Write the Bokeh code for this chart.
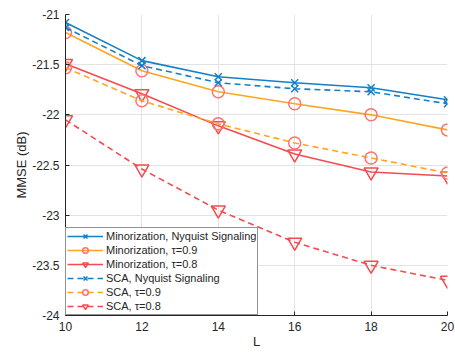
from bokeh.plotting import figure
from bokeh.models import Range1d, FixedTicker, Legend, LegendItem
from bokeh.embed import file_html
from bokeh.resources import INLINE

L = [10, 12, 14, 16, 18, 20]
min_nyq = [-21.08, -21.46, -21.62, -21.68, -21.73, -21.85]
min_09 = [-21.18, -21.56, -21.77, -21.89, -22.00, -22.15]
min_08 = [-21.49, -21.79, -22.11, -22.39, -22.57, -22.61]
sca_nyq = [-21.13, -21.51, -21.68, -21.74, -21.77, -21.89]
sca_09 = [-21.53, -21.86, -22.09, -22.28, -22.43, -22.58]
sca_08 = [-22.05, -22.54, -22.95, -23.27, -23.50, -23.65]

y_ticks = [-24, -23.5, -23, -22.5, -22, -21.5, -21]
y_tick_labels = ["-24", "-23.5", "-23", "-22.5", "-22", "-21.5", "-21"]
x_ticks = [10, 12, 14, 16, 18, 20]

BLUE = "#1380C8"
ORANGE = "#FFA51F"
RED = "#F74A4F"
SALMON = "#FF7272"
FONT = "Liberation Sans"

p = figure(width=455, height=352, output_backend="svg", toolbar_location=None,
           x_range=Range1d(10, 20), y_range=Range1d(-24, -21),
           min_border_left=65, min_border_right=8, min_border_top=14, min_border_bottom=37)
p.outline_line_color = None
p.background_fill_color = "white"
p.border_fill_color = "white"

for ax in (p.xaxis[0], p.yaxis[0]):
    ax.axis_line_color = "#262626"
    ax.major_tick_line_color = "#262626"
    ax.major_tick_in = 4
    ax.major_tick_out = 0
    ax.minor_tick_line_color = None
    ax.major_label_text_font = FONT
    ax.major_label_text_font_size = "12px"
    ax.major_label_text_color = "#262626"
    ax.axis_label_text_font = FONT
    ax.axis_label_text_font_size = "13px"
    ax.axis_label_text_font_style = "normal"
    ax.axis_label_text_color = "#262626"

p.xaxis.ticker = FixedTicker(ticks=x_ticks)
p.yaxis.ticker = FixedTicker(ticks=y_ticks)
p.yaxis.major_label_overrides = {t: s for t, s in zip(y_ticks, y_tick_labels)}
p.xaxis.axis_label = "L"
p.yaxis.axis_label = "MMSE (dB)"
p.xaxis.major_label_standoff = 6
p.yaxis.major_label_standoff = 6
p.xaxis.axis_label_standoff = 0
p.yaxis.axis_label_standoff = 0

p.grid.grid_line_color = "#E3E3E3"
p.grid.grid_line_width = 1

series = [
    ("Minorization, Nyquist Signaling", min_nyq, BLUE, "solid", "x", BLUE, 10),
    ("Minorization, τ=0.9", min_09, ORANGE, "solid", "circle", SALMON, 12),
    ("Minorization, τ=0.8", min_08, RED, "solid", "inverted_triangle", RED, 14),
    ("SCA, Nyquist Signaling", sca_nyq, BLUE, "6 4", "x", BLUE, 10),
    ("SCA, τ=0.9", sca_09, ORANGE, "6 4", "circle", SALMON, 12),
    ("SCA, τ=0.8", sca_08, RED, "6 4", "inverted_triangle", RED, 14),
]

items = []
for label, ys, col, dash, marker, mcol, size in series:
    r1 = p.line(L, ys, line_color=col, line_width=1.6, line_dash=dash)
    r2 = p.scatter(L, ys, marker=marker, size=size, line_color=mcol,
                   fill_color=None, line_width=1.5)
    items.append(LegendItem(label=label, renderers=[r1, r2]))

legend = Legend(items=items, location="bottom_left")
legend.margin = 0
legend.padding = 1
legend.spacing = 0
legend.label_text_font = FONT
legend.label_text_font_size = "11px"
legend.label_text_color = "#262626"
legend.label_height = 14
legend.glyph_height = 14
legend.glyph_width = 36
legend.label_standoff = 3
legend.border_line_color = "#262626"
legend.border_line_width = 1
legend.background_fill_color = "white"
legend.background_fill_alpha = 1
p.add_layout(legend)

open("out.html", "w").write(file_html(p, INLINE))
